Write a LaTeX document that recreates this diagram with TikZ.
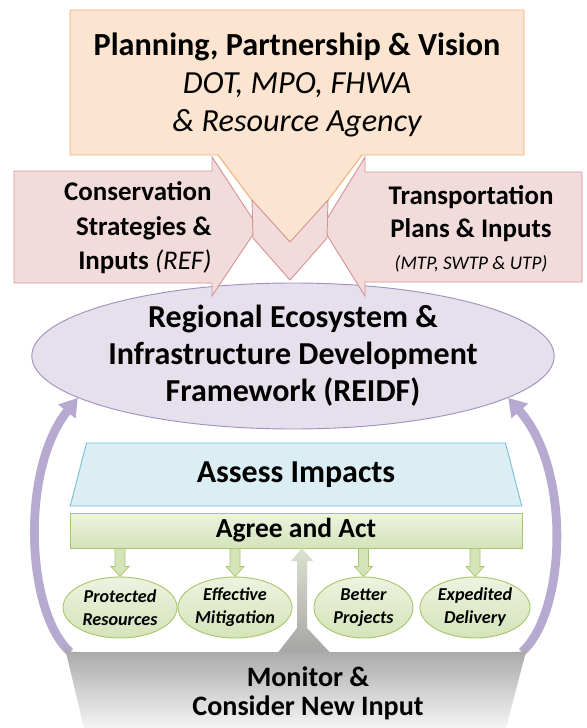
\documentclass[tikz,border=0pt]{standalone}
\usepackage{fontspec}
\setmainfont{Carlito}
\usetikzlibrary{shapes.geometric,arrows.meta,calc}
\definecolor{visionfill}{RGB}{252,229,208}
\definecolor{visionline}{RGB}{245,172,112}
\definecolor{inputfill}{RGB}{242,220,219}
\definecolor{inputline}{RGB}{214,148,146}
\definecolor{reidffill}{RGB}{229,224,236}
\definecolor{reidfline}{RGB}{160,146,188}
\definecolor{assessfill}{RGB}{218,238,243}
\definecolor{assessline}{RGB}{122,192,212}
\definecolor{acttop}{RGB}{237,243,224}
\definecolor{actfill}{RGB}{213,227,185}
\definecolor{actline}{RGB}{168,198,108}
\definecolor{loopcolor}{RGB}{182,170,208}

\begin{document}
\begin{tikzpicture}[x=0.03cm,y=-0.03cm,line width=0.8pt,
  visionbox/.style={draw=visionline,fill=visionfill},
  inputbox/.style={draw=inputline,fill=inputfill},
  outcome/.style={ellipse,draw=actline,top color=acttop,bottom color=actfill,minimum height=1.83cm,inner sep=0pt,align=center,font=\fontsize{15.5}{19.6}\selectfont\bfseries\itshape},
  outarrow/.style={draw=actline,fill=actfill,line width=0.6pt,to path={($(\tikztostart)+(-5,0)$) -- ($(\tikztotarget)+(-5,-10)$) -- ($(\tikztotarget)+(-9,-10)$) -- (\tikztotarget) -- ($(\tikztotarget)+(9,-10)$) -- ($(\tikztotarget)+(5,-10)$) -- ($(\tikztostart)+(5,0)$) -- cycle}},
  loopback/.style={draw=loopcolor,line width=7.5pt,-{Triangle[length=15pt,width=18pt]}}]
\useasboundingbox (0,0) rectangle (586,728);
\node (reidf) at (293,356) [ellipse,draw=reidfline,fill=reidffill,minimum width=15.6cm,minimum height=4.38cm,inner sep=0pt,align=center,font=\fontsize{27.3}{31.6}\selectfont\bfseries] {Regional Ecosystem \&\\Infrastructure Development\\Framework (REIDF)};
\draw[visionbox] (70,10) -- (524,10) -- (524,155) -- (362,155) -- (290,251) -- (218,155) -- (70,155) -- cycle;
\draw[inputbox] (14,171) -- (212,171) -- (212,157) -- (258,227) -- (212,296) -- (212,283) -- (14,283) -- cycle;
\draw[inputbox] (582,172) -- (365,172) -- (365,157) -- (322,227) -- (365,296) -- (365,282) -- (582,282) -- cycle;
\draw[inputbox] (252,200) -- (290,242) -- (328,200) -- (327,238) -- (290,280) -- (253,238) -- cycle;
\node (vision) at (297,85) [align=center,font=\fontsize{27.5}{32.4}\selectfont] {\bfseries Planning, Partnership \& Vision\\\itshape DOT, MPO, FHWA\\\itshape \& Resource Agency};
\node (conservation) at (212,228) [anchor=east,inner sep=0pt,align=right,font=\fontsize{23}{29.5}\selectfont\bfseries] {Conservation\\Strategies \&\\Inputs {\mdseries\itshape (REF)}};
\node (transport) at (471,229) [inner sep=0pt,align=center,font=\fontsize{23}{27.5}\selectfont\bfseries] {Transportation\\Plans \& Inputs\\{\fontsize{16.4}{20}\selectfont\mdseries\itshape (MTP, SWTP \& UTP)}};
\node (assess) at (296,474.5) [trapezium,trapezium angle=76.6,trapezium stretches=true,draw=assessline,fill=assessfill,minimum width=13.56cm,minimum height=1.89cm,font=\fontsize{27.3}{32}\selectfont\bfseries] {Assess Impacts};
\node (act) at (296,530.5) [draw=actline,top color=acttop,bottom color=actfill,minimum width=13.56cm,minimum height=1.05cm,inner sep=0pt,font=\fontsize{23.5}{28}\selectfont\bfseries] {Agree and Act};
\node (protected) at (120,607.5) [outcome,minimum width=3.42cm] {Protected\\Resources};
\node (mitigation) at (235,607.5) [outcome,minimum width=3.42cm] {Effective\\Mitigation};
\node (better) at (363.5,607.5) [outcome,minimum width=2.97cm] {Better\\Projects};
\node (expedited) at (475,607.5) [outcome,minimum width=3.3cm] {Expedited\\Delivery};
\draw[outarrow] (act.south -| protected) to (protected.north);
\draw[outarrow] (act.south -| mitigation) to (mitigation.north);
\draw[outarrow] (act.south -| better) to (better.north);
\draw[outarrow] (act.south -| expedited) to (expedited.north);
\draw[loopback] (70,652) .. controls (26,612) and (20,470) .. (reidf.191);
\draw[loopback] (522,652) .. controls (566,612) and (572,470) .. (reidf.-11);
\shade[top color=actfill!80!gray!60,bottom color=gray!70] (278,652.5) -- (297,628) -- (297,561) -- (291,561) -- (302,548) -- (313,561) -- (307,561) -- (307,628) -- (330,652.5) -- cycle;
\shade[top color=gray!72,bottom color=gray!8] (64,644) .. controls (68,652) .. (82,652) -- (510,652) .. controls (524,652) .. (528,644) -- (506,728) -- (84,728) -- cycle;
\node (monitor) at (308,693) [align=center,font=\fontsize{24}{24.8}\selectfont\bfseries] {Monitor \&\\Consider New Input};
\end{tikzpicture}
\end{document}
